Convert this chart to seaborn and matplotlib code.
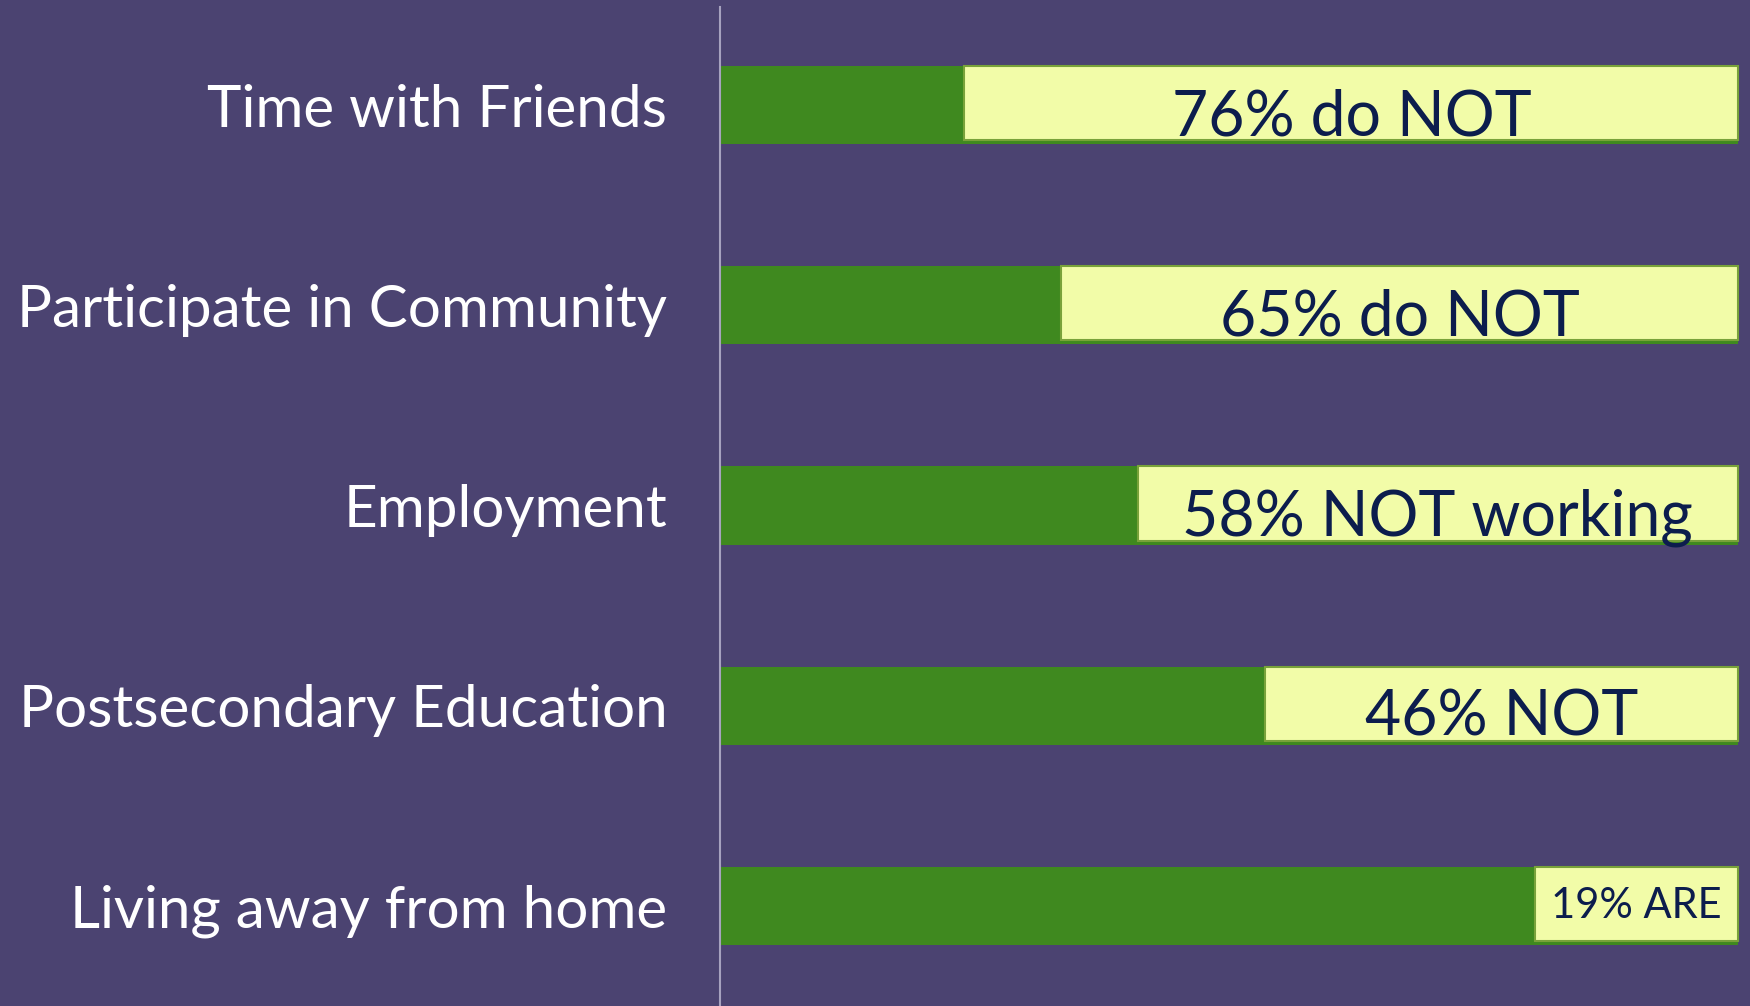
import matplotlib
matplotlib.use("Agg")
import matplotlib.pyplot as plt
import seaborn as sns
import pandas as pd
import numpy as np

# Data
categories = ["Time with Friends", "Participate in Community", "Employment",
              "Postsecondary Education", "Living away from home"]
box_pct = [76, 66.5, 59, 46.5, 20]
box_text = ["76% do NOT", "65% do NOT", "58% NOT working", "46% NOT", "19% ARE"]
text_size = [45, 45, 45, 45, 30]

bg = "#4b4371"
green = "#3f891f"
yellow = "#f2fca8"
navy = "#0c1d4d"

df = pd.DataFrame({"category": categories, "total": [100] * len(categories),
                   "pct": box_pct})

sns.set_theme(style="white")
plt.rcParams["font.family"] = ["Lato", "DejaVu Sans"]

fig = plt.figure(figsize=(17.5, 10.06), dpi=100, facecolor=bg)
ax = fig.add_axes([0.4115, 0.0, 0.5835, 0.993])
ax.set_facecolor(bg)

# full green bars
sns.barplot(data=df, x="total", y="category", orient="h", color=green,
            saturation=1, width=0.39, linewidth=0, ax=ax)

# yellow boxes covering the right-hand part
ypos = np.asarray(ax.get_yticks(), dtype=float)
ax.barh(ypos - 0.01, df["pct"], left=100 - df["pct"], height=0.37,
        color=yellow, edgecolor="#79a23a", linewidth=1.5, zorder=3)

for y, p, t, s in zip(ypos, box_pct, box_text, text_size):
    dy = 0.06 if s > 40 else 0.0
    ax.text(100 - p / 2, y + dy, t, ha="center", va="center",
            fontsize=s, color=navy, zorder=4)

ax.set_xlim(0, 100.3)
ax.set_ylim(4.5, -0.49)
ax.set_xlabel("")
ax.set_ylabel("")
ax.set_xticks([])
ax.tick_params(axis="y", length=0, pad=38, labelsize=42, labelcolor="white")
for side in ["top", "right", "bottom"]:
    ax.spines[side].set_visible(False)
ax.spines["left"].set_color("#a7a2bf")
ax.spines["left"].set_linewidth(1.5)

fig.savefig("out.png", dpi=100, facecolor=bg)
